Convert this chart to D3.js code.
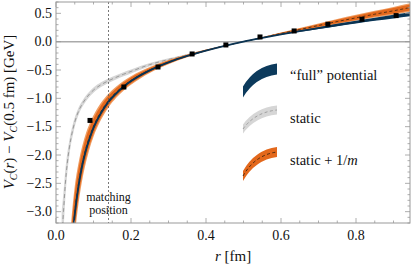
<!DOCTYPE html>
<html><head><meta charset="utf-8">
<script src="https://cdn.jsdelivr.net/npm/d3@7"></script>
<style>
body{margin:0;background:#fff}
svg{display:block}
text{font-family:"Liberation Serif","DejaVu Serif",serif;fill:#111}
</style>
</head><body>
<svg width="415" height="267"></svg>
<script>
var rGrid = [0.015,0.02,0.025,0.03,0.035,0.04,0.045,0.05,0.06,0.07,0.08,0.09,0.10,0.12,0.14,0.16,0.18,0.20,
             0.25,0.30,0.35,0.40,0.45,0.50,0.55,0.60,0.65,0.70,0.75,0.80,0.85,0.90,0.95];

var fullV   = [null,null,null,null,null,-3.85,-3.38,-3.05,-2.55,-2.18,-1.91,-1.70,-1.52,-1.26,-1.06,-0.915,-0.795,-0.696,
               -0.506,-0.365,-0.252,-0.158,-0.075,0,0.066,0.128,0.186,0.24,0.294,0.345,0.395,0.443,0.49];
var fullErr = [null,null,null,null,null,0.12,0.10,0.08,0.06,0.05,0.04,0.035,0.03,0.025,0.022,0.02,0.018,0.016,
               0.013,0.01,0.008,0.005,0.003,0,0.004,0.008,0.012,0.016,0.02,0.024,0.028,0.032,0.036];

var staticV   = [-3.5,-3.0,-2.5,-2.15,-1.9,-1.70,-1.55,-1.42,-1.23,-1.10,-1.0,-0.92,-0.855,-0.76,-0.69,-0.63,-0.575,-0.525,
                 -0.405,-0.315,-0.232,-0.152,-0.075,0,0.073,0.145,0.214,0.282,0.349,0.415,0.48,0.545,0.61];
var staticErr = [0.5,0.35,0.25,0.18,0.14,0.11,0.095,0.08,0.065,0.055,0.05,0.047,0.045,0.042,0.04,0.038,0.036,0.035,
                 0.03,0.022,0.015,0.01,0.005,0,0.005,0.01,0.015,0.02,0.025,0.03,0.035,0.04,0.045];

var mV   = [null,null,null,null,null,-3.8,-3.35,-3.0,-2.5,-2.14,-1.87,-1.66,-1.49,-1.23,-1.04,-0.895,-0.78,-0.685,
            -0.50,-0.36,-0.25,-0.155,-0.073,0,0.072,0.145,0.215,0.285,0.355,0.42,0.485,0.545,0.61];
var mErr = [null,null,null,null,null,0.58,0.5,0.45,0.36,0.30,0.26,0.22,0.19,0.15,0.12,0.10,0.085,0.075,
            0.053,0.038,0.025,0.015,0.007,0,0.008,0.016,0.025,0.035,0.045,0.053,0.06,0.068,0.075];

// lattice points
var latR = [0.0907,0.181,0.272,0.363,0.453,0.544,0.635,0.725,0.816,0.907];
var latV = [-1.39,-0.80,-0.447,-0.217,-0.058,0.083,0.189,0.308,0.396,0.46];

var xMajor = [0,0.2,0.4,0.6,0.8];
var yMajor = [-3,-2.5,-2,-1.5,-1,-0.5,0,0.5];
var rMatch = 0.14;

var pL = 56, pR = 410, pT = 2, pB = 223;

var svg = d3.select("svg");
var x = d3.scaleLinear().domain([0, 0.944]).range([pL, pR]);
var y = d3.scaleLinear().domain([-3.2, 0.7]).range([pB, pT]);

svg.append("clipPath").attr("id", "clip")
  .append("rect").attr("x", pL).attr("y", pT).attr("width", pR-pL).attr("height", pB-pT);

var plot = svg.append("g").attr("clip-path", "url(#clip)");

// zero line
plot.append("line")
  .attr("x1", pL).attr("x2", pR).attr("y1", y(0)).attr("y2", y(0))
  .attr("stroke", "#aaa").attr("stroke-width", 1.5);

function rows(v, e) {
  return rGrid.map(function(r, i) { return {r: r, v: v[i], e: e[i]}; })
    .filter(function(d) { return d.v != null; });
}

function band(k) {
  return d3.area()
    .x(function(d) { return x(d.r); })
    .y0(function(d) { return y(d.v - k*d.e); })
    .y1(function(d) { return y(d.v + k*d.e); })
    .curve(d3.curveMonotoneX);
}
var line = d3.line()
  .x(function(d) { return x(d.r); })
  .y(function(d) { return y(d.v); })
  .curve(d3.curveMonotoneX);

var stat = rows(staticV, staticErr),
    mass = rows(mV, mErr),
    full = rows(fullV, fullErr);

// static
plot.append("path").datum(stat).attr("d", band(1)).attr("fill", "#d6d6d6");
plot.append("path").datum(stat).attr("d", line)
  .attr("fill", "none").attr("stroke", "#999").attr("stroke-width", 1).attr("stroke-dasharray", "4,3");

// static + 1/m
plot.append("path").datum(mass).attr("d", band(1)).attr("fill", "#ef9d62");
plot.append("path").datum(mass).attr("d", band(0.7)).attr("fill", "#e3681c");
plot.append("path").datum(mass).attr("d", line)
  .attr("fill", "none").attr("stroke", "#3a2310").attr("stroke-width", 0.8).attr("stroke-dasharray", "3,2.5");

// full
plot.append("path").datum(full).attr("d", band(1)).attr("fill", "#0c3a5c");
plot.append("path").datum(full).attr("d", line)
  .attr("fill", "none").attr("stroke", "#0a3352").attr("stroke-width", 1.8);

// matching position
plot.append("line")
  .attr("x1", x(rMatch)).attr("x2", x(rMatch)).attr("y1", pT).attr("y2", pB)
  .attr("stroke", "#555").attr("stroke-width", 0.8).attr("stroke-dasharray", "2,2");

// lattice data
plot.selectAll(".pt").data(latR).enter().append("rect")
  .attr("class", "pt")
  .attr("x", function(d) { return x(d) - 2.5; })
  .attr("y", function(d, i) { return y(latV[i]) - 2.5; })
  .attr("width", 5).attr("height", 5).attr("fill", "#000");

svg.append("text").attr("x", x(rMatch)).attr("y", 201).attr("text-anchor", "middle")
  .style("font-size", "12px").text("matching");
svg.append("text").attr("x", x(rMatch)).attr("y", 214).attr("text-anchor", "middle")
  .style("font-size", "12px").text("position");

// frame and ticks
svg.append("rect").attr("x", pL).attr("y", pT).attr("width", pR-pL).attr("height", pB-pT)
  .attr("fill", "none").attr("stroke", "#999").attr("stroke-width", 1);

var xMinor = d3.range(0, 0.944, 0.05);
var yMinor = d3.range(-3.2, 0.71, 0.1);
var tk = svg.append("g").attr("stroke", "#999").attr("stroke-width", 0.8);
xMinor.forEach(function(t) {
  var big = xMajor.some(function(m) { return Math.abs(m - t) < 1e-6; });
  var l = big ? 5 : 2.5;
  tk.append("line").attr("x1", x(t)).attr("x2", x(t)).attr("y1", pB).attr("y2", pB - l);
  tk.append("line").attr("x1", x(t)).attr("x2", x(t)).attr("y1", pT).attr("y2", pT + l);
});
yMinor.forEach(function(t) {
  var big = yMajor.some(function(m) { return Math.abs(m - t) < 1e-6; });
  var l = big ? 5 : 2.5;
  tk.append("line").attr("y1", y(t)).attr("y2", y(t)).attr("x1", pL).attr("x2", pL + l);
  tk.append("line").attr("y1", y(t)).attr("y2", y(t)).attr("x1", pR).attr("x2", pR - l);
});

var fmt = function(v) { return d3.format(".1f")(v).replace("-", "\u2212"); };
svg.selectAll(".xl").data(xMajor).enter().append("text")
  .attr("x", function(d) { return x(d); }).attr("y", 240)
  .attr("text-anchor", "middle").style("font-size", "14px").text(fmt);
svg.selectAll(".yl").data(yMajor).enter().append("text")
  .attr("x", 52).attr("y", function(d) { return y(d) + 4.5; })
  .attr("text-anchor", "end").style("font-size", "14px").text(fmt);

// axis titles
var xt = svg.append("text").attr("x", 233).attr("y", 261).attr("text-anchor", "middle").style("font-size", "15px");
xt.append("tspan").style("font-style", "italic").text("r");
xt.append("tspan").text(" [fm]");

var yt = svg.append("text").attr("transform", "translate(14,112) rotate(-90)")
  .attr("text-anchor", "middle").style("font-size", "15px");
yt.append("tspan").style("font-style", "italic").text("V");
yt.append("tspan").attr("dy", 3).style("font-size", "10px").style("font-style", "italic").text("C");
yt.append("tspan").attr("dy", -3).text("(");
yt.append("tspan").style("font-style", "italic").text("r");
yt.append("tspan").text(") \u2212 ");
yt.append("tspan").style("font-style", "italic").text("V");
yt.append("tspan").attr("dy", 3).style("font-size", "10px").style("font-style", "italic").text("C");
yt.append("tspan").attr("dy", -3).text("(0.5 fm) [GeV]");

// legend
var legend = [
  {label: "\u201cfull\u201d potential", yl: 92, yr: 69, h: 5.5, fill: "#0c3a5c", dash: null, ty: 80},
  {label: "static", yl: 129, yr: 110, h: 4.5, fill: "#d6d6d6", dash: "#999", ty: 123},
  {label: "static + 1/m", yl: 176, yr: 152, h: 5, fill: "#e3681c", dash: "#3a2310", ty: 165}
];
var lx0 = 243, lx1 = 277;
legend.forEach(function(d) {
  var cx = lx0 + 0.35*(lx1 - lx0), cy = d.yr + 0.12*(d.yl - d.yr);
  svg.append("path")
    .attr("d", "M" + lx0 + "," + (d.yl - d.h) + "Q" + cx + "," + (cy - d.h) + " " + lx1 + "," + (d.yr - d.h) +
               "L" + lx1 + "," + (d.yr + d.h) + "Q" + cx + "," + (cy + d.h) + " " + lx0 + "," + (d.yl + d.h) + "Z")
    .attr("fill", d.fill);
  if (d.dash) {
    svg.append("path")
      .attr("d", "M" + lx0 + "," + d.yl + "Q" + cx + "," + cy + " " + lx1 + "," + d.yr)
      .attr("fill", "none").attr("stroke", d.dash).attr("stroke-width", 0.9).attr("stroke-dasharray", "3,2.5");
  }
});
var lt = svg.selectAll(".lt").data(legend).enter().append("text")
  .attr("x", 290).attr("y", function(d) { return d.ty; }).style("font-size", "14.5px");
lt.filter(function(d, i) { return i < 2; }).text(function(d) { return d.label; });
var l3 = lt.filter(function(d, i) { return i == 2; });
l3.append("tspan").text("static + 1/");
l3.append("tspan").style("font-style", "italic").text("m");
</script>
</body></html>
